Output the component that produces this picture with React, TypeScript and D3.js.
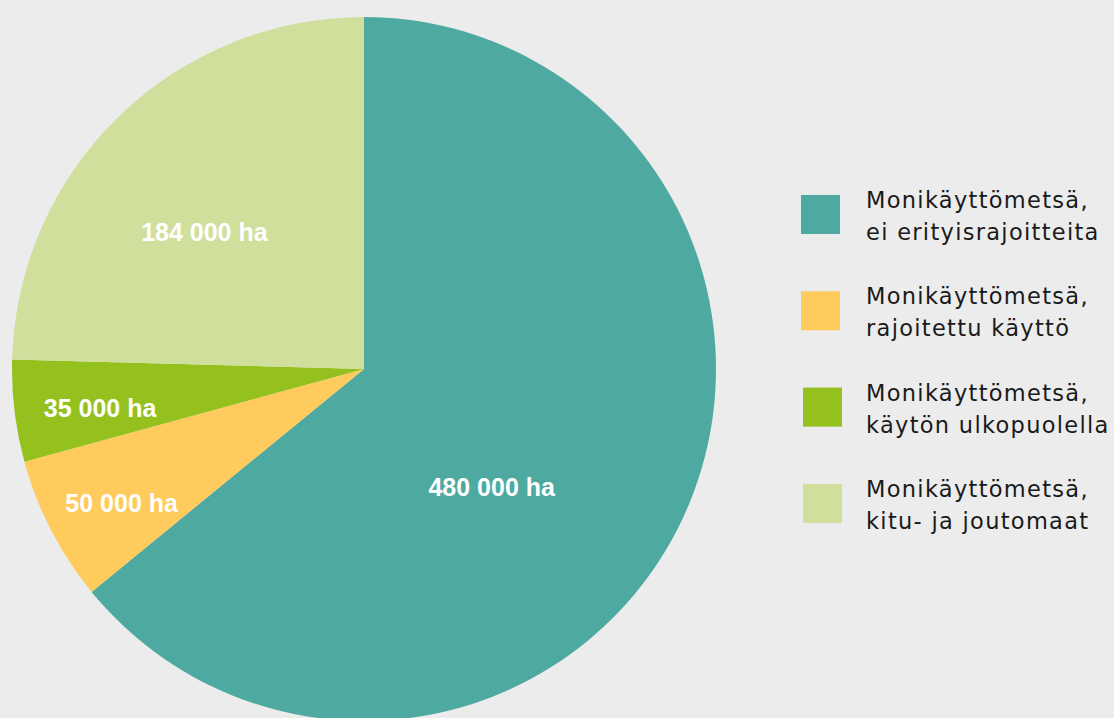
import React from "react";
import * as d3 from "d3";

const categories = [
  "Monikäyttömetsä, ei erityisrajoitteita",
  "Monikäyttömetsä, rajoitettu käyttö",
  "Monikäyttömetsä, käytön ulkopuolella",
  "Monikäyttömetsä, kitu- ja joutomaat",
];
const legendLines = [
  ["Monikäyttömetsä,", "ei erityisrajoitteita"],
  ["Monikäyttömetsä,", "rajoitettu käyttö"],
  ["Monikäyttömetsä,", "käytön ulkopuolella"],
  ["Monikäyttömetsä,", "kitu- ja joutomaat"],
];
const values = [480000, 50000, 35000, 184000];
const valueLabels = ["480 000 ha", "50 000 ha", "35 000 ha", "184 000 ha"];
const colors = ["#4EAAA0", "#FECB5C", "#95C11F", "#D0E09C"];

// label placement (radius fraction, angle offset in degrees) – layout only
const labelPlacement = [
  [0.494, 17.4],
  [0.787, -1.7],
  [0.758, -1.6],
  [0.597, -5.2],
];

const W = 1114;
const H = 718;
const cx = 364;
const cy = 369;
const R = 352;

export default function App() {
  React.useEffect(() => {
    document.body.style.margin = "0";
  }, []);

  const pie = d3.pie<number>().sort(null).value((d) => d)(values);
  const arc = d3.arc<d3.PieArcDatum<number>>().innerRadius(0).outerRadius(R);

  return (
    <svg width={W} height={H} style={{ display: "block", background: "#ECECEC" }}>
      <rect width={W} height={H} fill="#ECECEC" />
      <g transform={`translate(${cx},${cy})`}>
        {pie.map((p, i) => (
          <path key={categories[i]} d={arc(p) || ""} fill={colors[i]} />
        ))}
        {pie.map((p, i) => {
          const [rf, off] = labelPlacement[i];
          const a = (p.startAngle + p.endAngle) / 2 + (off * Math.PI) / 180;
          const x = Math.sin(a) * R * rf;
          const y = -Math.cos(a) * R * rf;
          return (
            <text
              key={"l" + i}
              x={x}
              y={y}
              textAnchor="middle"
              dominantBaseline="central"
              fill="#FFFFFF"
              fontFamily="'Liberation Sans', Arial, sans-serif"
              fontWeight="bold"
              fontSize={25}
            >
              {valueLabels[i]}
            </text>
          );
        })}
      </g>
      <g>
        {categories.map((c, i) => {
          const y0 = 195 + i * 96.3;
          return (
            <g key={"lg" + i}>
              <rect x={801 + (i >= 2 ? 2 : 0)} y={y0} width={39} height={39} fill={colors[i]} />
              {legendLines[i].map((t, j) => (
                <text
                  key={j}
                  x={866}
                  y={y0 + 13 + j * 32}
                  fill="#1a1a1a"
                  fontFamily="'DejaVu Sans', sans-serif"
                  fontSize={22.5}
                  letterSpacing={1.3}
                >
                  {t}
                </text>
              ))}
            </g>
          );
        })}
      </g>
    </svg>
  );
}
